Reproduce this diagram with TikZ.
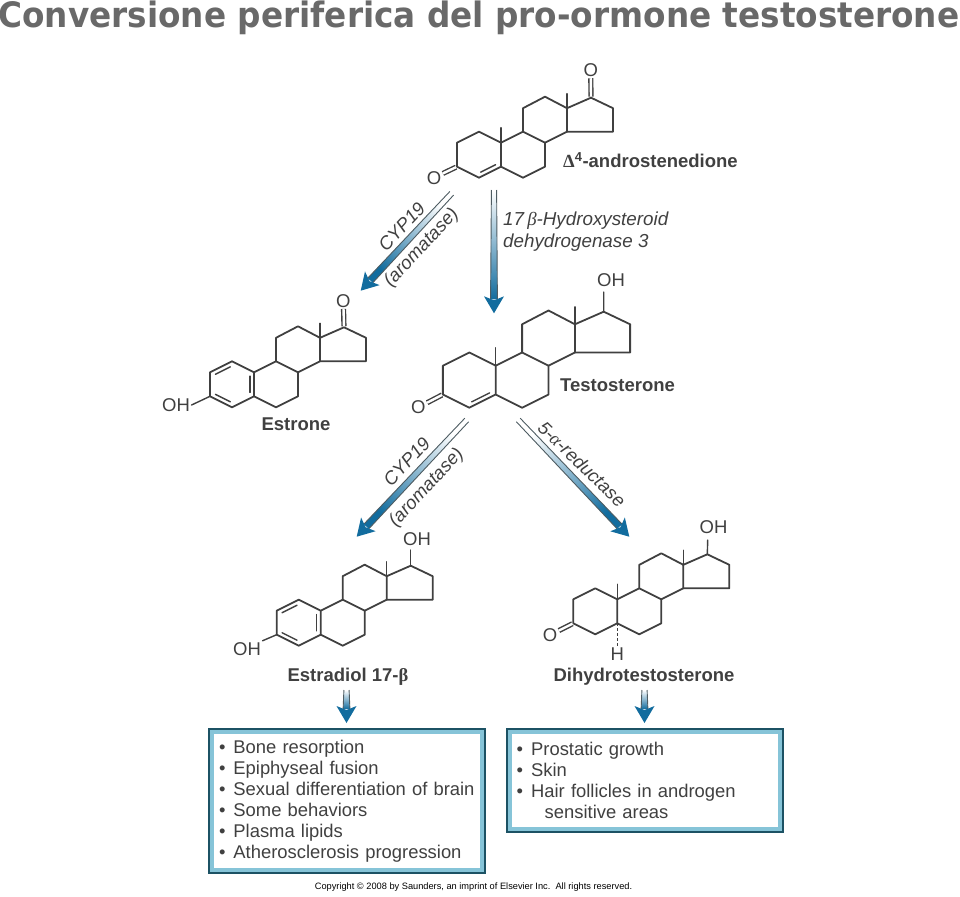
\documentclass[tikz,border=0pt]{standalone}
\usepackage{xcolor,fontspec}
\usetikzlibrary{calc,positioning}
\setmainfont{Liberation Sans}
\newfontfamily\titlefont[FakeStretch=0.934]{DejaVu Sans}
\newfontfamily\greekfont{Liberation Serif}
\definecolor{ink}{RGB}{64,64,64}
\definecolor{titlegray}{RGB}{105,105,105}
\definecolor{arrowblue}{RGB}{18,108,158}
\definecolor{arrowmid}{RGB}{150,190,200}
\definecolor{railgray}{RGB}{78,92,98}
\definecolor{boxdark}{RGB}{28,82,100}
\definecolor{boxlight}{RGB}{134,196,216}
\tikzset{
  bond/.style={draw=ink,line width=1.8pt,line join=round,line cap=round},
  thinbond/.style={draw=ink,line width=1.4pt,line cap=round},
  carbonyl/.style={draw=ink,line width=1.4pt,double=white,double distance=2.4pt,shorten <=1pt},
  atom/.style={text=ink,font=\fontsize{18.5}{18}\selectfont,inner sep=1.5pt},
  molname/.style={text=ink,font=\fontsize{18.5}{18}\selectfont\bfseries,inner sep=0pt},
  enzyme/.style={text=ink,font=\fontsize{18.5}{22}\selectfont\itshape,inner sep=0pt},
  effectbox/.style={draw=boxlight,line width=5pt,fill=white,text width=256pt,
    text=ink,font=\fontsize{18.4}{21}\selectfont,align=left,inner xsep=7.5pt,inner ysep=0pt},
  boxedge/.style={draw=boxdark,line width=2pt},
}
\newcommand{\steroid}[4]{
  \begin{scope}[shift={(#2,#3)},scale=#4]
    \foreach \n/\x/\y in {a/0/0,b/0/24,c/-22/-11,d/-44/0,e/-44/24,f/-22/35,g/22/35,h/44/24,i/44/0,j/22/-11,
      k/22/-34.5,l/44/-46,m/66/-34.5,n/66/-11,o/90/-45,p/112/-34.5,q/112/-11,r/66/-49,s/0/-15}
      \coordinate (#1\n) at (\x,\y);
    \draw[bond] (#1a)--(#1c)--(#1d)--(#1e)--(#1f)--(#1b)--(#1a)--(#1j)--(#1i)--(#1h)--(#1g)--(#1b);
    \draw[bond] (#1j)--(#1k)--(#1l)--(#1m)--(#1n)--(#1i);
    \draw[bond] (#1m)--(#1o)--(#1p)--(#1q)--(#1n);
    \draw[thinbond] (#1m)--(#1r);
  \end{scope}
}
\newcommand{\inbond}[2]{
  \draw[thinbond] ($(#1)!.16!(#2)!4.2pt!90:(#2)$) -- ($(#1)!.84!(#2)!4.2pt!90:(#2)$);
}
\newcommand{\enzarrow}[3]{
  \shade[top color=white,middle color=arrowmid,bottom color=arrowblue,shading angle=#3]
    ($(#1)!2.6pt!90:(#2)$) -- ($(#2)!14pt!(#1)!3.4pt!-90:(#1)$) -- ($(#2)!14pt!(#1)!3.4pt!90:(#1)$) -- ($(#1)!2.6pt!-90:(#2)$) -- cycle;
  \draw[railgray,line width=.9pt] ($(#1)!2.6pt!90:(#2)$) -- ($(#2)!14pt!(#1)!3.4pt!-90:(#1)$);
  \draw[railgray,line width=.9pt] ($(#1)!2.6pt!-90:(#2)$) -- ($(#2)!14pt!(#1)!3.4pt!90:(#1)$);
  \fill[arrowblue] (#2) -- ($(#2)!17pt!(#1)!10pt!90:(#1)$) -- ($(#2)!13pt!(#1)$) -- ($(#2)!17pt!(#1)!10pt!-90:(#1)$) -- cycle;
}
\begin{document}
\begin{tikzpicture}[x=1pt,y=-1pt]
\useasboundingbox (0,0) rectangle (960,896);
\node[text=titlegray,font=\titlefont\fontsize{35}{36}\selectfont\bfseries,inner sep=0pt,anchor=base] (title) at (479,28) {Conversione periferica del pro-ormone testosterone};

\steroid{an}{501}{142.7}{1}
\draw[thinbond] (ana)--(ans);
\inbond{anf}{anb}
\node[atom] (anO) at (590.7,70) {O};
\node[atom] (anK) at (434,177.7) {O};
\draw[carbonyl] (ano)--(anO);
\draw[carbonyl] (ane)--(anK);
\node[molname,anchor=west] (andro) at (563,160) {{\greekfont\bfseries Δ}\textsuperscript{4}-androstenedione};

\steroid{es}{254}{372.3}{1}
\inbond{esc}{esd}
\inbond{ese}{esf}
\inbond{esb}{esa}
\node[atom] (esO) at (343.3,300.7) {O};
\node[atom] (esH) at (176,405) {OH};
\draw[carbonyl] (eso)--(esO);
\draw[thinbond] (ese)--(esH.east);
\node[molname] (estrone) at (296,424) {Estrone};

\steroid{te}{495.7}{365.7}{1.2}
\draw[thinbond] (tea)--(tes);
\inbond{tef}{teb}
\node[atom] (teO) at (418.3,407.3) {O};
\node[atom] (teH) at (611,280) {OH};
\coordinate (teHb) at (603.7,292);
\draw[carbonyl] (tee)--(teO);
\draw[thinbond] (teo)--(teHb);
\node[molname,anchor=west] (testo) at (560,385) {Testosterone};

\steroid{ed}{320.7}{610.7}{1}
\inbond{edc}{edd}
\inbond{ede}{edf}
\inbond{edb}{eda}
\node[atom] (edH) at (417,539) {OH};
\node[atom] (edL) at (247,649) {OH};
\coordinate (edHb) at (410.7,550);
\draw[thinbond] (edo)--(edHb);
\draw[thinbond] (ede)--(edL.north east);
\node[molname] (estradiol) at (348,677) {Estradiol 17-{\greekfont β}};

\steroid{dh}{617.3}{599.3}{1}
\draw[thinbond] (dha)--(dhs);
\node[atom] (dhO) at (550,635) {O};
\node[atom] (dhH) at (713.5,527) {OH};
\node[atom] (dhA) at (617.3,654) {H};
\coordinate (dhHb) at (707.7,540);
\draw[carbonyl] (dhe)--(dhO);
\draw[thinbond] (dho)--(dhHb);
\draw[thinbond,dash pattern=on 2.5pt off 2.5pt,line cap=butt] (dhb)--(dhA.north);
\node[molname] (dht) at (644,677) {Dihydrotestosterone};

\coordinate (estail) at (451.7,193.3);
\coordinate (estip) at (360.7,290.7);
\coordinate (tetail) at (494,190);
\coordinate (tetip) at (494,313.3);
\coordinate (edtail) at (466.7,420);
\coordinate (edtip) at (356.7,536.7);
\coordinate (dhtail) at (518.3,420);
\coordinate (dhtip) at (629.3,536.7);
\enzarrow{estail}{estip}{-45}
\enzarrow{tetail}{tetip}{0}
\enzarrow{edtail}{edtip}{-45}
\enzarrow{dhtail}{dhtip}{45}

\node[enzyme,rotate=47] (cypa) at (401.7,226.7) {CYP19};
\node[enzyme,rotate=47] (aroa) at (421.7,248) {(aromatase)};
\node[enzyme,rotate=47] (cypb) at (406.7,461.7) {CYP19};
\node[enzyme,rotate=47] (arob) at (426.7,488) {(aromatase)};
\node[enzyme,rotate=-44] (redu) at (582,464) {5-{\greekfont\itshape α}-reductase};
\node[enzyme,anchor=west,align=left,font=\fontsize{18.8}{22}\selectfont\itshape] (hsd) at (503,232) {17\,{\greekfont\itshape β}-Hydroxysteroid\\dehydrogenase 3};

\node[effectbox,minimum height=139pt] (bonebox) at (347,801) {•\hspace{8pt}Bone resorption\\•\hspace{8pt}Epiphyseal fusion\\•\hspace{8pt}Sexual differentiation of brain\\•\hspace{8pt}Some behaviors\\•\hspace{8pt}Plasma lipids\\•\hspace{8pt}Atherosclerosis progression};
\node[effectbox,minimum height=98pt] (growbox) at (644.7,780.8) {•\hspace{8pt}Prostatic growth\\•\hspace{8pt}Skin\\•\hspace{8pt}Hair follicles in androgen\\\hspace{28pt}sensitive areas};
\draw[boxedge] (bonebox.north west) rectangle (bonebox.south east);
\draw[boxedge] (growbox.north west) rectangle (growbox.south east);

\coordinate (bonetail) at (346.5,690);
\coordinate (bonetip) at (346.5,723);
\coordinate (growtail) at (644.5,690);
\coordinate (growtip) at (644.5,723);
\enzarrow{bonetail}{bonetip}{0}
\enzarrow{growtail}{growtip}{0}

\node[text=black,font=\fontsize{9.25}{10}\selectfont,inner sep=0pt] (copy) at (473.5,887) {Copyright © 2008 by Saunders, an imprint of Elsevier Inc.~~All rights reserved.};
\end{tikzpicture}
\end{document}
